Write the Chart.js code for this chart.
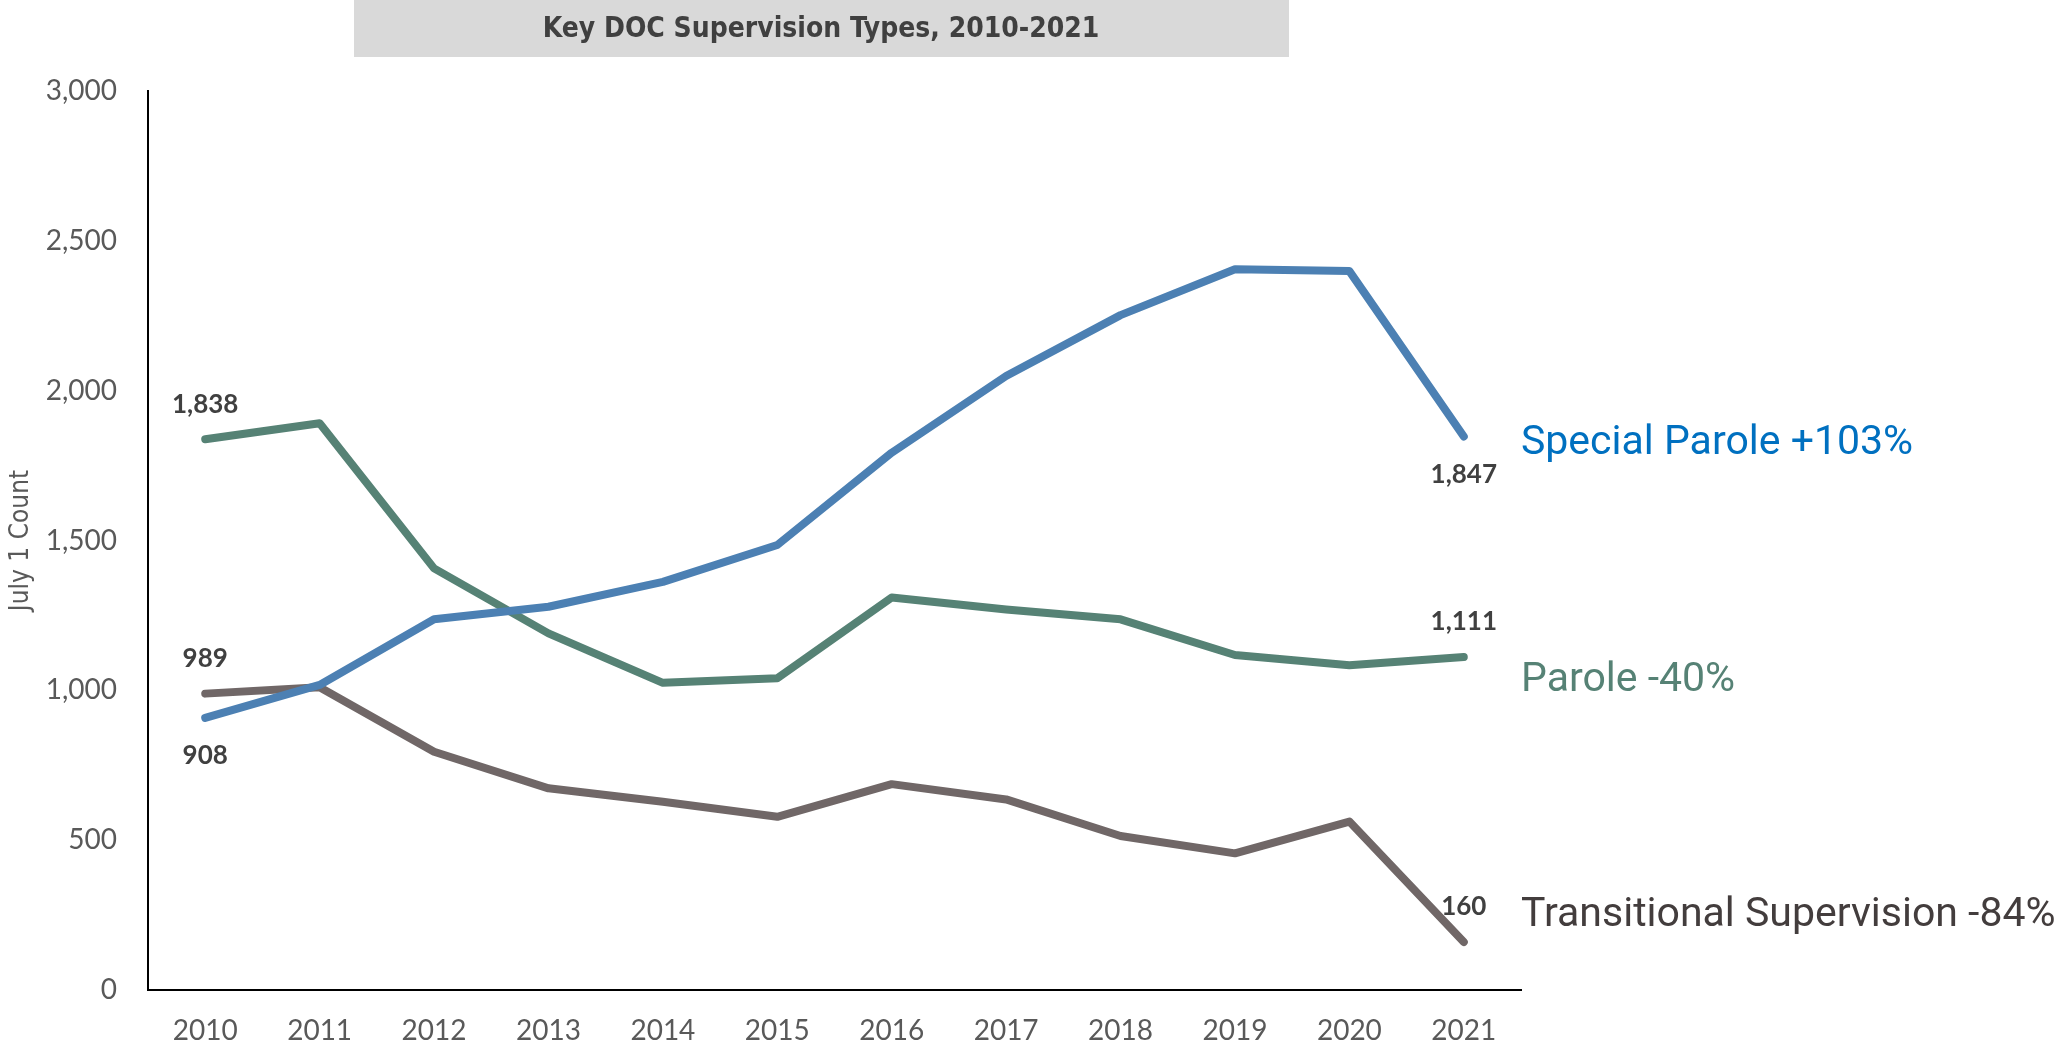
<!DOCTYPE html>
<html>
<head>
<meta charset="utf-8">
<script src="https://cdn.jsdelivr.net/npm/chart.js@4.4.0/dist/chart.umd.min.js"></script>
<style>
  html, body { margin: 0; padding: 0; background: #fff; }
</style>
</head>
<body>
<canvas id="chart" width="2062" height="1053"></canvas>
<script>
// Data
const years = ["2010", "2011", "2012", "2013", "2014", "2015", "2016", "2017", "2018", "2019", "2020", "2021"];
const specialParole = [908, 1018, 1237, 1279, 1362, 1485, 1793, 2049, 2252, 2405, 2399, 1847];
const parole = [1838, 1891, 1407, 1190, 1025, 1040, 1310, 1270, 1237, 1118, 1084, 1111];
const transitional = [989, 1010, 795, 673, 628, 578, 687, 636, 514, 456, 562, 160];
const seriesNames = ["Special Parole", "Parole", "Transitional Supervision"];
const changeLabels = ["+103%", "-40%", "-84%"];
const yTicks = [0, 500, 1000, 1500, 2000, 2500, 3000];

const lineColors = ["#4c80b3", "#568275", "#706767"];
const nameColors = ["#0070c0", "#568275", "#433d3d"];

// label offsets (px) for first/last point of each series, and for the name on the right
const pointLabelOffsets = [[38, 38], [-35, -35], [-35, -35]];
const nameOffsets = [7, 24, -26];

const fmt = (v) => v.toLocaleString("en-US");

// Title box at the top
const titleBox = {
  id: "titleBox",
  beforeDraw(chart) {
    const ctx = chart.ctx;
    ctx.save();
    ctx.fillStyle = "#d9d9d9";
    ctx.fillRect(354, 0, 935, 57);
    ctx.fillStyle = "#404040";
    ctx.font = "bold 28px 'Liberation Sans Narrow', 'DejaVu Sans Condensed', sans-serif";
    ctx.textAlign = "center";
    ctx.textBaseline = "middle";
    ctx.fillText("Key DOC Supervision Types, 2010-2021", 821, 30);
    ctx.restore();
  }
};

// Value labels on the first and last point, series names to the right
const endLabels = {
  id: "endLabels",
  afterDatasetsDraw(chart) {
    const ctx = chart.ctx;
    ctx.save();
    chart.data.datasets.forEach((ds, i) => {
      const pts = chart.getDatasetMeta(i).data;
      const ends = [0, pts.length - 1];
      ctx.fillStyle = "#404040";
      ctx.font = "bold 26px Lato, sans-serif";
      ctx.textAlign = "center";
      ctx.textBaseline = "middle";
      ends.forEach((idx, k) => {
        const p = pts[idx];
        ctx.fillText(fmt(ds.data[idx]), p.x, p.y + pointLabelOffsets[i][k]);
      });
      const last = pts[pts.length - 1];
      ctx.fillStyle = nameColors[i];
      ctx.font = "41px Roboto, sans-serif";
      ctx.textAlign = "left";
      ctx.fillText(seriesNames[i] + " " + changeLabels[i], chart.chartArea.right, last.y + nameOffsets[i]);
    });
    ctx.restore();
  }
};

const seriesData = [specialParole, parole, transitional];

new Chart(document.getElementById("chart"), {
  type: "line",
  data: {
    labels: years,
    datasets: seriesData.map((d, i) => ({
      label: seriesNames[i],
      data: d,
      borderColor: lineColors[i],
      backgroundColor: lineColors[i],
      borderWidth: 8,
      borderCapStyle: "round",
      borderJoinStyle: "round",
      pointRadius: 0,
      tension: 0,
      fill: false,
    })),
  },
  options: {
    responsive: false,
    devicePixelRatio: 1,
    animation: false,
    layout: { padding: { top: 91, right: 541, left: 0, bottom: 0 } },
    plugins: {
      legend: { display: false },
      tooltip: { enabled: false },
    },
    scales: {
      x: {
        offset: true,
        grid: { display: false, drawTicks: false },
        border: { display: true, color: "#000", width: 2 },
        ticks: { color: "#595959", font: { family: "Lato", size: 28 }, padding: 24 },
        afterFit: (s) => { s.height = 63; },
      },
      y: {
        min: 0,
        max: 3000,
        afterBuildTicks: (s) => { s.ticks = yTicks.map((v) => ({ value: v })); },
        grid: { display: false, drawTicks: false },
        border: { display: true, color: "#000", width: 2 },
        ticks: { color: "#595959", font: { family: "Lato", size: 28 }, padding: 31, callback: (v) => fmt(v) },
        title: {
          display: true,
          text: "July 1 Count",
          color: "#595959",
          font: { family: "'Liberation Sans Narrow', 'DejaVu Sans Condensed', sans-serif", size: 26 },
          padding: { top: 6, bottom: 0 },
        },
        afterFit: (s) => { s.width = 148; },
      },
    },
  },
  plugins: [titleBox, endLabels],
});
</script>
</body>
</html>
